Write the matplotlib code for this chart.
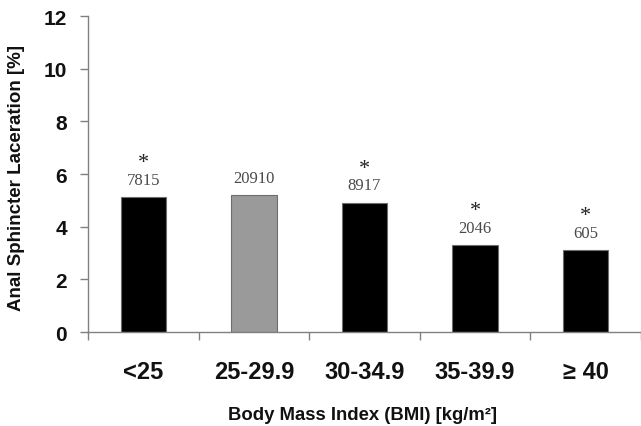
import numpy as np
import matplotlib.pyplot as plt
from matplotlib.ticker import FixedLocator

# Anal sphincter laceration rate by BMI class
bmi_classes = ['<25', '25-29.9', '30-34.9', '35-39.9', '\u2265 40']
laceration_pct = [5.13, 5.2, 4.91, 3.3, 3.11]
n_women = ['7815', '20910', '8917', '2046', '605']
significant = [True, False, True, True, True]

bar_colors = ['black', '#9a9a9a', 'black', 'black', 'black']

plt.rcParams['font.family'] = ['Liberation Sans', 'DejaVu Sans']

fig = plt.figure(figsize=(6.41, 4.27), dpi=100)
ax = fig.add_axes([0.1373, 0.2201, 0.8627, 0.7399])

x = np.arange(len(bmi_classes))
bars = ax.bar(x, laceration_pct, width=0.41, color=bar_colors,
              edgecolor='#6e6e6e', linewidth=0.8, zorder=2)

# case counts and significance markers above each bar
for xi, h, n, sig in zip(x, laceration_pct, n_women, significant):
    ax.annotate(n, (xi, h), xytext=(0, 12.5), textcoords='offset points',
                ha='center', va='center', fontsize=12,
                family='Liberation Serif', color='#4a4a4a')
    if sig:
        ax.annotate('*', (xi, h), xytext=(0, 25), textcoords='offset points',
                    ha='center', va='center', fontsize=16,
                    family='Liberation Serif', color='#222222')

ax.set_xlim(-0.5, 4.5)
ax.set_ylim(0, 12)
ax.set_yticks(np.arange(0, 13, 2))
ax.set_yticklabels([str(v) for v in range(0, 13, 2)], fontsize=15,
                   fontweight='bold')
ax.set_xticks(x)
ax.set_xticklabels(bmi_classes, fontsize=17, fontweight='bold')
ax.xaxis.set_minor_locator(FixedLocator(np.arange(-0.5, 5, 1)))

ax.tick_params(axis='x', which='major', length=0, pad=20, colors='#111111')
ax.tick_params(axis='x', which='minor', length=6, width=1,
               color='#808080', direction='out')
ax.tick_params(axis='y', length=6, width=1, color='#808080', pad=9,
               labelcolor='#111111')

for side in ['top', 'right']:
    ax.spines[side].set_visible(False)
for side in ['left', 'bottom']:
    ax.spines[side].set_color('#808080')
    ax.spines[side].set_linewidth(1)

fig.text(0.025, 0.583, 'Anal Sphincter Laceration [%]', rotation=90,
         ha='center', va='center', fontsize=13.5, fontweight='bold',
         color='#111111')
fig.text(0.565, 0.026, 'Body Mass Index (BMI) [kg/m\u00b2]', ha='center',
         va='center', fontsize=13.3, fontweight='bold', color='#111111')

fig.savefig('out.png', dpi=100)
